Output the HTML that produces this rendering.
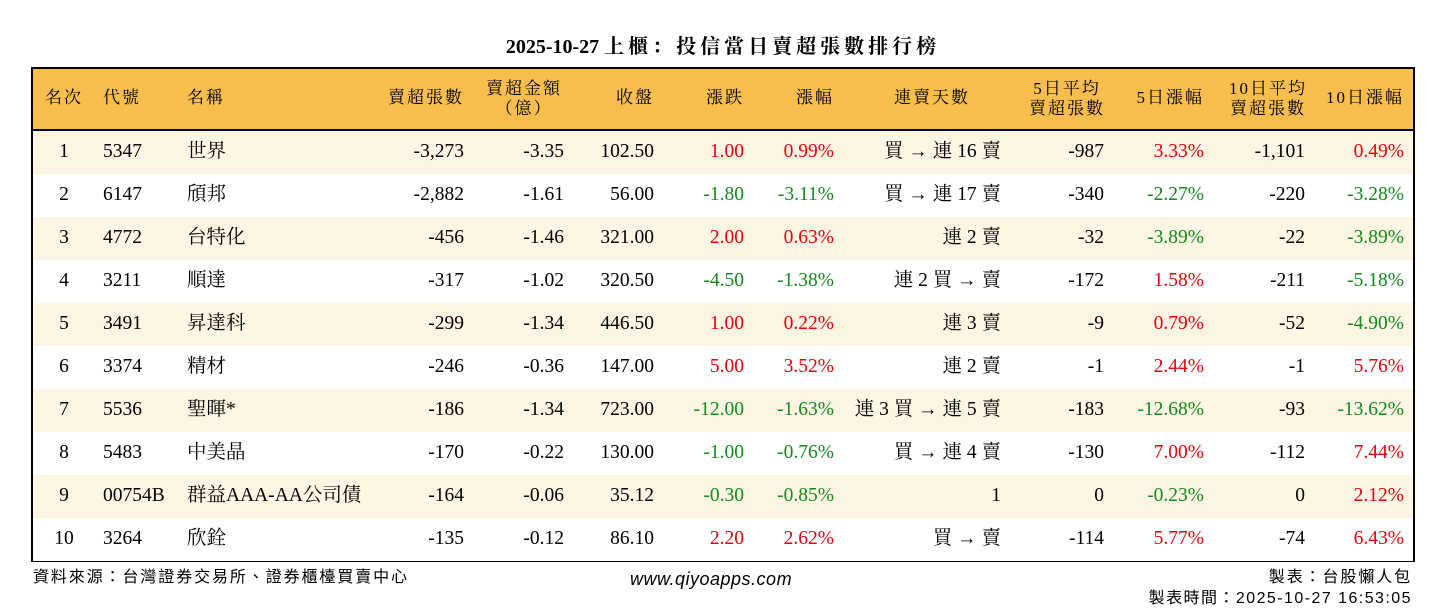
<!DOCTYPE html>
<html><head><meta charset="utf-8">
<style>
body{margin:0;width:1446px;height:612px;background:#fff;position:relative;overflow:hidden;font-family:"Liberation Serif","Noto Serif CJK SC","Noto Sans CJK TC",serif;color:#000}
.t{position:absolute;white-space:nowrap;font-size:19.5px;line-height:22px}
#title{position:absolute;left:0;width:1446px;top:30px;text-align:center;font-size:20px;font-weight:bold}
#title .cj{letter-spacing:4px}
#tbl{position:absolute;left:31px;top:67px;width:1380px;height:491px;border:2px solid #000}
#hdr{position:absolute;left:0;top:0;width:1380px;height:60px;background:#F7BE4E;border-bottom:2px solid #000}
.row{position:absolute;left:0;width:1380px;height:43px}
.foot{position:absolute;font-family:"Liberation Sans","Noto Sans CJK TC",sans-serif;font-size:16px;line-height:18px;white-space:nowrap;letter-spacing:1.9px}
</style></head><body>
<div id="title">2025-10-27 <span class="cj">上櫃：投信當日賣超張數排行榜</span></div>
<div id="tbl"><div id="hdr"></div></div>
<div class="foot" style="left:33px;top:569px">資料來源：台灣證券交易所、證券櫃檯買賣中心</div>
<div class="foot" style="left:630px;top:570px;font-size:18px;font-style:italic;letter-spacing:0.5px">www.qiyoapps.com</div>
<div class="foot" style="right:34px;top:569px">製表：台股懶人包</div>
<div class="foot" style="right:34px;top:590px;letter-spacing:1.45px">製表時間：2025-10-27 16:53:05</div>
<script>
const ranks=["1","2","3","4","5","6","7","8","9","10"];
const codes=["5347","6147","4772","3211","3491","3374","5536","5483","00754B","3264"];
const names=["世界","頎邦","台特化","順達","昇達科","精材","聖暉*","中美晶","群益AAA-AA公司債","欣銓"];
const netSell=["-3,273","-2,882","-456","-317","-299","-246","-186","-170","-164","-135"];
const amount=["-3.35","-1.61","-1.46","-1.02","-1.34","-0.36","-1.34","-0.22","-0.06","-0.12"];
const closes=["102.50","56.00","321.00","320.50","446.50","147.00","723.00","130.00","35.12","86.10"];
const changes=["1.00","-1.80","2.00","-4.50","1.00","5.00","-12.00","-1.00","-0.30","2.20"];
const pcts=["0.99%","-3.11%","0.63%","-1.38%","0.22%","3.52%","-1.63%","-0.76%","-0.85%","2.62%"];
const streaks=["買 → 連 16 賣","買 → 連 17 賣","連 2 賣","連 2 買 → 賣","連 3 賣","連 2 賣","連 3 買 → 連 5 賣","買 → 連 4 賣","1","買 → 賣"];
const avg5=["-987","-340","-32","-172","-9","-1","-183","-130","0","-114"];
const pct5=["3.33%","-2.27%","-3.89%","1.58%","0.79%","2.44%","-12.68%","7.00%","-0.23%","5.77%"];
const avg10=["-1,101","-220","-22","-211","-52","-1","-93","-112","0","-74"];
const pct10=["0.49%","-3.28%","-3.89%","-5.18%","-4.90%","5.76%","-13.62%","7.44%","2.12%","6.43%"];
const headers=[["名次","c",31],["代號","l",70],["名稱","l",154],["賣超張數","r",431],["賣超金額<br>（億）","c",491],["收盤","r",621],["漲跌","r",711],["漲幅","r",801],["連賣天數","c",899],["5日平均<br>賣超張數","c",1034],["5日漲幅","r",1171],["10日平均<br>賣超張數","c",1235],["10日漲幅","r",1371]];
const tbl=document.getElementById('tbl'),hdr=document.getElementById('hdr');
function put(parent,html,align,x,y,color,name){
 const d=document.createElement('div');d.className='t';d.innerHTML=html;
 
 
 if(align==='l')d.style.left=x+'px';
 else if(align==='r')d.style.right=(1380-x)+'px';
 else{d.style.left=(x-100)+'px';d.style.width='200px';d.style.textAlign='center';}
 d.style.top=y+'px';if(color)d.style.color=color;parent.appendChild(d);return d;
}
headers.forEach((h,i)=>{const two=h[0].includes('<br>');const d=put(hdr,h[0],h[1],h[2],two?10:19,null,'header-cell');d.style.fontSize='17px';d.style.letterSpacing='2px';d.style.lineHeight='20px';});
const col=v=>v.startsWith('-')?'#128a1c':'#e8000b';
for(let i=0;i<ranks.length;i++){
 const r=document.createElement('div');r.className='row';r.style.top=(62+43*i)+'px';r.style.background=i%2===0?'#FDF5E4':'#fff';
 
 
 tbl.appendChild(r);const y=10;
 put(r,ranks[i],'c',31,y,null,'rank');
 put(r,codes[i],'l',70,y,null,'stock-code');
 put(r,names[i],'l',154,y,null,'stock-name');
 put(r,netSell[i],'r',431,y,null,'net-sell');
 put(r,amount[i],'r',531,y,null,'net-sell-amount');
 put(r,closes[i],'r',621,y,null,'close-price');
 put(r,changes[i],'r',711,y,col(changes[i]),'price-change');
 put(r,pcts[i],'r',801,y,col(pcts[i]),'pct-change');
 put(r,streaks[i],'r',968,y,null,'sell-streak');
 put(r,avg5[i],'r',1071,y,null,'avg5-sell');
 put(r,pct5[i],'r',1171,y,col(pct5[i]),'pct5');
 put(r,avg10[i],'r',1272,y,null,'avg10-sell');
 put(r,pct10[i],'r',1371,y,col(pct10[i]),'pct10');
}
</script>
</body></html>
